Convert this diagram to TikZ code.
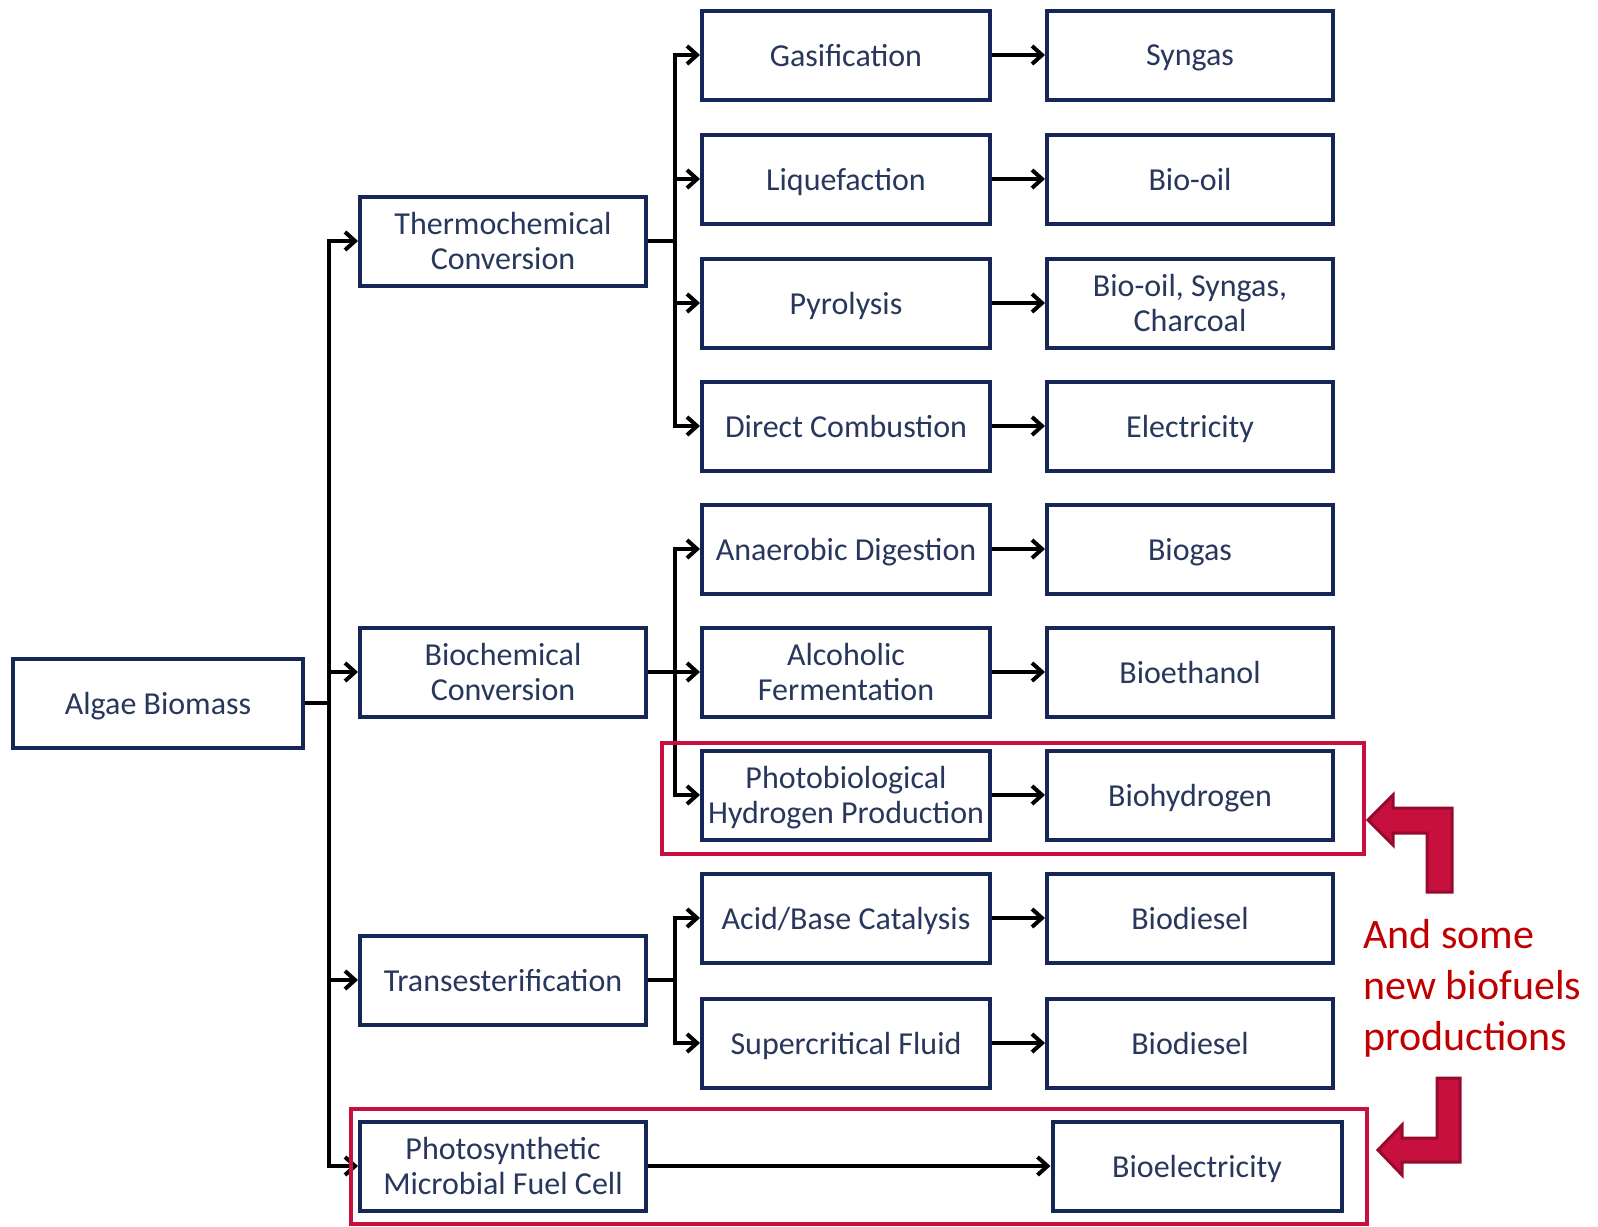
\documentclass[tikz,border=0pt]{standalone}
\usepackage{fontspec}
\setmainfont{Carlito}
\usetikzlibrary{arrows.meta}
\definecolor{boxline}{RGB}{22,38,86}
\definecolor{boxtext}{RGB}{40,55,92}
\definecolor{hilite}{RGB}{200,16,62}
\definecolor{hiliteedge}{RGB}{150,10,45}
\definecolor{notetext}{RGB}{192,0,0}
\begin{document}
\begin{tikzpicture}[x=1pt,y=-1pt,
  procbox/.style={draw=boxline,line width=4pt,fill=white,text=boxtext,
    minimum width=288pt,minimum height=89pt,inner sep=0pt,align=center,
    text depth=0pt,font=\fontsize{32}{35}\selectfont},
  conn/.style={line width=3.8pt,black},
  arr/.style={conn,-{Straight Barb[length=10pt,width=18pt,line width=4pt]}},
  hibox/.style={draw=hilite,line width=4pt},
  bentarrow/.style={fill=hilite,draw=hiliteedge,line width=3pt,line join=miter}]
\useasboundingbox (0,0) rectangle (1598,1226);

% source and conversion routes
\node[procbox,minimum width=290pt] (algae) at (158,703) {Algae Biomass};
\node[procbox,minimum width=286pt] (thermo) at (503,241) {Thermochemical\\Conversion};
\node[procbox,minimum width=286pt] (bioch) at (503,672) {Biochemical\\Conversion};
\node[procbox,minimum width=286pt] (trans) at (503,980) {Transesterification};
\node[procbox,minimum width=286pt] (pmfc) at (503,1166) {Photosynthetic\\Microbial Fuel Cell};

% processes
\node[procbox] (gas) at (846,55) {Gasification};
\node[procbox] (liq) at (846,179) {Liquefaction};
\node[procbox] (pyr) at (846,303) {Pyrolysis};
\node[procbox] (comb) at (846,426) {Direct Combustion};
\node[procbox] (anae) at (846,549) {Anaerobic Digestion};
\node[procbox] (alco) at (846,672) {Alcoholic\\Fermentation};
\node[procbox] (phot) at (846,795) {Photobiological\\Hydrogen Production};
\node[procbox] (acid) at (846,918) {Acid/Base Catalysis};
\node[procbox] (scf) at (846,1043) {Supercritical Fluid};

% products
\node[procbox,minimum width=286pt] (syn) at (1190,55) {Syngas};
\node[procbox,minimum width=286pt] (oil) at (1190,179) {Bio-oil};
\node[procbox,minimum width=286pt] (mix) at (1190,303) {Bio-oil, Syngas,\\Charcoal};
\node[procbox,minimum width=286pt] (elec) at (1190,426) {Electricity};
\node[procbox,minimum width=286pt] (bgas) at (1190,549) {Biogas};
\node[procbox,minimum width=286pt] (beth) at (1190,672) {Bioethanol};
\node[procbox,minimum width=286pt] (bhyd) at (1190,795) {Biohydrogen};
\node[procbox,minimum width=286pt] (bd1) at (1190,918) {Biodiesel};
\node[procbox,minimum width=286pt] (bd2) at (1190,1043) {Biodiesel};
\node[procbox,minimum width=289pt] (belec) at (1197,1166) {Bioelectricity};

% branch columns
\coordinate (trunk) at (329,0);
\coordinate (fork) at (675,0);

% algae biomass to the four routes
\foreach \t in {thermo,bioch,trans,pmfc}
  \draw[arr] (algae.east) -- (algae.east -| trunk) |- (\t.west);

% routes to processes
\foreach \t in {gas,liq,pyr,comb}
  \draw[arr] (thermo.east) -- (thermo.east -| fork) |- (\t.west);
\foreach \t in {anae,alco,phot}
  \draw[arr] (bioch.east) -- (bioch.east -| fork) |- (\t.west);
\foreach \t in {acid,scf}
  \draw[arr] (trans.east) -- (trans.east -| fork) |- (\t.west);

% processes to products
\draw[arr] (gas) -- (syn);
\draw[arr] (liq) -- (oil);
\draw[arr] (pyr) -- (mix);
\draw[arr] (comb) -- (elec);
\draw[arr] (anae) -- (bgas);
\draw[arr] (alco) -- (beth);
\draw[arr] (phot) -- (bhyd);
\draw[arr] (acid) -- (bd1);
\draw[arr] (scf) -- (bd2);
\draw[arr] (pmfc) -- (belec);

% highlighted new routes
\draw[hibox] (662,743) rectangle (1364,854);
\draw[hibox] (351,1109) rectangle (1367,1224);

% note with bent arrows
\node[anchor=north west,text=notetext,align=left,inner sep=0pt,
  font=\fontsize{42}{51}\selectfont] (note) at (1363,919)
  {And some\\new biofuels\\productions};
\draw[bentarrow] (1368,820) -- (1393,795) -- (1393,808) -- (1452,808)
  -- (1452,892) -- (1427,892) -- (1427,833) -- (1393,833) -- (1393,845) -- cycle;
\draw[bentarrow] (1378,1150) -- (1402,1125) -- (1402,1138) -- (1437,1138)
  -- (1437,1078) -- (1460,1078) -- (1460,1162) -- (1402,1162) -- (1402,1175) -- cycle;
\end{tikzpicture}
\end{document}
